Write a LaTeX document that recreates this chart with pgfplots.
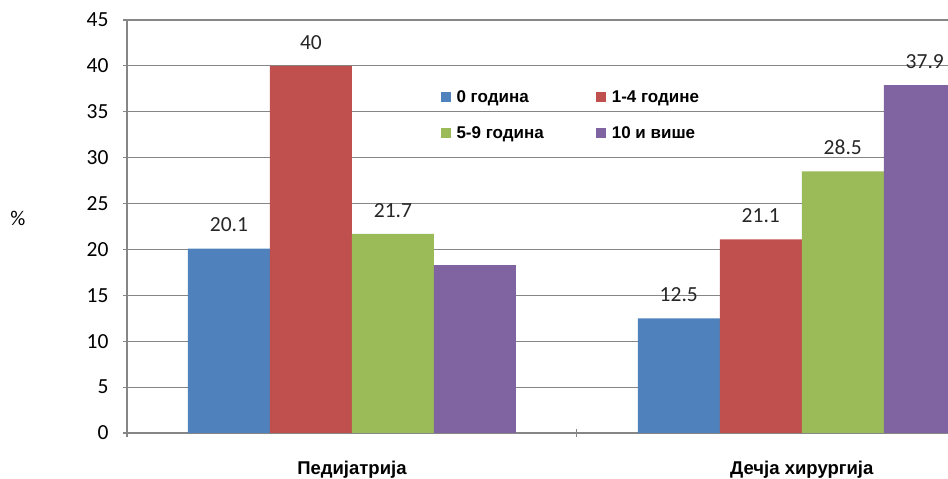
\documentclass[border=0pt]{standalone}
\usepackage{fontspec}
\setmainfont{Carlito}
\newfontfamily\arialf{Liberation Sans}
\usepackage{pgfplots}
\pgfplotsset{compat=1.18}
\definecolor{cblue}{HTML}{4F81BD}
\definecolor{cred}{HTML}{C0504D}
\definecolor{cgreen}{HTML}{9BBB59}
\definecolor{cpurple}{HTML}{8064A2}
\definecolor{cgrid}{HTML}{868686}
\begin{document}
\begin{tikzpicture}
\path[use as bounding box] (-127pt,-46pt) rectangle (821pt,433pt);
\begin{axis}[
  at={(0,0)}, anchor=south west,
  scale only axis, width=821pt, height=413pt,
  ybar=0pt, bar width=82pt,
  xmin=-0.5, xmax=1.325,
  ymin=0, ymax=45,
  ytick={0,5,...,45},
  xtick={-0.5,0.5,1.5},
  xticklabels={},
  extra x ticks={0,1},
  extra x tick labels={Педијатрија, Дечја хирургија},
  extra x tick style={major tick length=0pt, xticklabel style={font=\arialf\bfseries\fontsize{18.5}{20}\selectfont, yshift=-25pt}},
  tick align=outside, major tick length=8pt,
  axis lines=left, axis line style={-, draw=cgrid, line width=1.2pt},
  tick style={draw=cgrid, line width=1.2pt},
  ymajorgrids, grid style={draw=cgrid, line width=1.2pt},
  yticklabel style={font=\fontsize{21.5}{24}\selectfont, xshift=-11pt},
  /pgf/number format/assume math mode=true,
  ylabel={\%},
  ylabel style={font=\fontsize{21}{24}\selectfont, rotate=-90, at={(axis description cs:-0.133,0.52)}, anchor=center},
  clip=true,
  nodes near coords={\pgfplotspointmeta},
  point meta=explicit symbolic,
  every node near coord/.append style={font=\fontsize{21.5}{24}\selectfont, color=black!85, yshift=13pt},
  legend columns=2,
  legend style={draw=none, fill=none, at={(axis description cs:0.378,0.84)}, anchor=north west,
    font=\arialf\bfseries\fontsize{17}{19}\selectfont, row sep=19pt,
    /tikz/every even column/.append style={column sep=46pt},
    nodes={inner xsep=6pt}},
  legend cell align=left,
  legend image code/.code={\fill[#1] (0pt,-5pt) rectangle (10pt,5pt);},
]
\addplot[fill=cblue, draw=none] coordinates {(0,20.1) [20.1] (1,12.5) [12.5]};
\addplot[fill=cred, draw=none] coordinates {(0,40) [40] (1,21.1) [21.1]};
\addplot[fill=cgreen, draw=none] coordinates {(0,21.7) [21.7] (1,28.5) [28.5]};
\addplot[fill=cpurple, draw=none] coordinates {(0,18.3) [{}] (1,37.9) [37.9]};
\legend{0 година, 1-4 године, 5-9 година, 10 и више}
\end{axis}
\end{tikzpicture}
\end{document}
